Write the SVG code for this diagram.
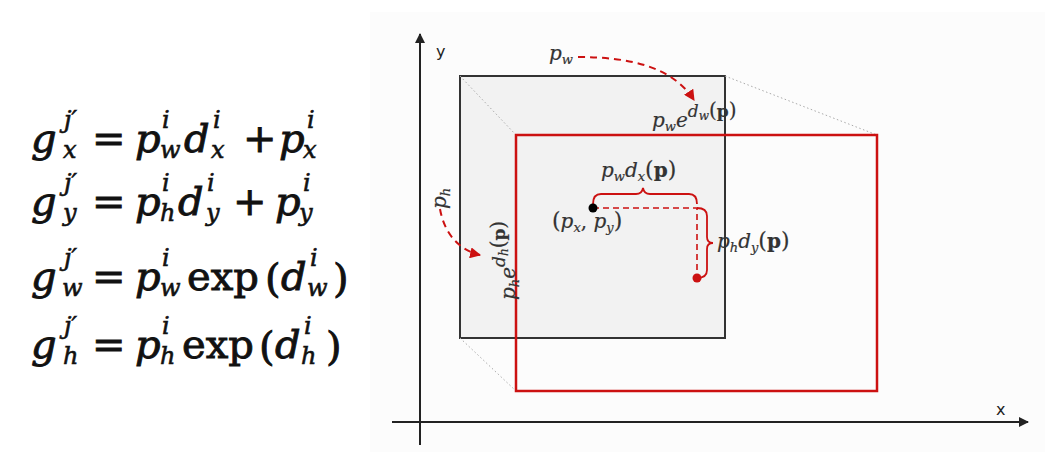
<svg xmlns="http://www.w3.org/2000/svg" width="1052" height="464" viewBox="0 0 1052 464">
<style>
.m{font-family:"DejaVu Serif","Liberation Serif",serif;font-style:italic;font-size:40px;fill:#111;stroke:#111;stroke-width:0.9}
.n{font-style:normal}
.s{font-size:24px;stroke-width:0.6}
.l{font-family:"DejaVu Serif","Liberation Serif",serif;font-style:italic;font-size:20px;fill:#333;stroke:#333;stroke-width:0.2}
.ls{font-size:13px}
.ln{font-style:normal}
.b{font-style:normal;font-weight:bold}
.ax{stroke:#222;stroke-width:2;fill:none}
.sans{font-family:"DejaVu Sans","Liberation Sans",sans-serif;font-size:16px;fill:#222}
.red{stroke:#cc1111;fill:none}
.dot{stroke:#aaa;stroke-width:1;stroke-dasharray:1.5 2.5;fill:none}
</style>
<defs>
<marker id="ah" viewBox="0 0 10 10" refX="9" refY="5" markerWidth="10" markerHeight="10" markerUnits="userSpaceOnUse" orient="auto"><path d="M0,0 L10,5 L0,10 z" fill="#222"/></marker>
<marker id="rh" viewBox="0 0 10 10" refX="9" refY="5" markerWidth="11" markerHeight="11" markerUnits="userSpaceOnUse" orient="auto"><path d="M0,0 L10,5 L0,10 z" fill="#cc1111"/></marker>
</defs>
<rect width="1052" height="464" fill="#fff"/>
<rect x="370" y="12" width="675" height="440" fill="#fcfcfc"/>

<g id="equations">
<g id="eq1">
<text class="m" x="31" y="152">g</text><text class="m s" x="64" y="128">j′</text><text class="m s" x="63" y="158">x</text>
<text class="m n" x="92" y="152">=</text>
<text class="m" x="135" y="152">p</text><text class="m s" x="162" y="128">i</text><text class="m s" x="160" y="158">w</text>
<text class="m" x="184" y="152">d</text><text class="m s" x="213" y="128">i</text><text class="m s" x="211" y="158">x</text>
<text class="m n" x="243" y="152">+</text>
<text class="m" x="279" y="152">p</text><text class="m s" x="307" y="128">i</text><text class="m s" x="303" y="158">x</text>
</g>
<g id="eq2">
<text class="m" x="31" y="215">g</text><text class="m s" x="64" y="191">j′</text><text class="m s" x="63" y="221">y</text>
<text class="m n" x="92" y="215">=</text>
<text class="m" x="135" y="215">p</text><text class="m s" x="162" y="191">i</text><text class="m s" x="160" y="221">h</text>
<text class="m" x="178" y="215">d</text><text class="m s" x="207" y="191">i</text><text class="m s" x="206" y="221">y</text>
<text class="m n" x="233" y="215">+</text>
<text class="m" x="275" y="215">p</text><text class="m s" x="303" y="191">i</text><text class="m s" x="299" y="221">y</text>
</g>
<g id="eq3">
<text class="m" x="31" y="290">g</text><text class="m s" x="64" y="266">j′</text><text class="m s" x="62" y="296">w</text>
<text class="m n" x="92" y="290">=</text>
<text class="m" x="135" y="290">p</text><text class="m s" x="162" y="266">i</text><text class="m s" x="160" y="296">w</text>
<text class="m n" x="187" y="290">exp</text>
<text class="m n" x="265" y="292" font-size="48">(</text>
<text class="m" x="281" y="290">d</text><text class="m s" x="310" y="266">i</text><text class="m s" x="307" y="296">w</text>
<text class="m n" x="333" y="292" font-size="48">)</text>
</g>
<g id="eq4">
<text class="m" x="31" y="358">g</text><text class="m s" x="64" y="334">j′</text><text class="m s" x="63" y="364">h</text>
<text class="m n" x="92" y="358">=</text>
<text class="m" x="135" y="358">p</text><text class="m s" x="162" y="334">i</text><text class="m s" x="160" y="364">h</text>
<text class="m n" x="182" y="358">exp</text>
<text class="m n" x="259" y="360" font-size="48">(</text>
<text class="m" x="275" y="358">d</text><text class="m s" x="304" y="334">i</text><text class="m s" x="301" y="364">h</text>
<text class="m n" x="326" y="360" font-size="48">)</text>
</g>
</g>

<g id="axes">
<line class="ax" x1="420" y1="445" x2="420" y2="34" marker-end="url(#ah)"/>
<line class="ax" x1="392" y1="422" x2="1028" y2="422" marker-end="url(#ah)"/>
<text class="sans" x="436" y="57">y</text>
<text class="sans" x="996" y="415">x</text>
</g>

<g id="prior-box">
<rect x="460" y="76" width="265" height="262" fill="#f2f2f2" stroke="#333" stroke-width="2"/>
</g>
<g id="guides">
<line class="dot" x1="460" y1="76" x2="516" y2="135"/>
<line class="dot" x1="725" y1="76" x2="877" y2="135"/>
<line class="dot" x1="460" y1="338" x2="516" y2="391"/>
</g>
<g id="pred-box">
<rect x="516" y="135" width="361" height="256" fill="none" stroke="#cc1111" stroke-width="2.5"/>
</g>

<g id="connectors">
<path class="red" stroke-width="2" stroke-dasharray="7 5" d="M578,57 C628,57 672,66 694,100" marker-end="url(#rh)"/>
<path class="red" stroke-width="2" stroke-dasharray="7 5" d="M440,209 C444,232 458,250 480,255" marker-end="url(#rh)"/>
<path class="red" stroke-width="1.6" stroke-dasharray="6 4" d="M593,208 H697 V278"/>
<path class="red" stroke-width="1.8" d="M593,204 Q593,194 601,194 L636,194 Q642,194 643,188 Q644,194 650,194 L689,194 Q697,194 697,204"/>
<path class="red" stroke-width="1.8" d="M697,208 Q707,208 707,216 L707,237 Q707,243 713,243 Q707,243 707,249 L707,270 Q707,278 697,278"/>
</g>

<g id="points">
<circle cx="593" cy="208" r="4.5" fill="#000"/>
<circle cx="697" cy="278" r="4.5" fill="#cc1111"/>
</g>

<g id="labels">
<text class="l" x="549" y="60">p<tspan class="ls" dy="4">w</tspan></text>
<text class="l" x="652" y="127">p<tspan class="ls" dy="4">w</tspan><tspan dy="-4">e</tspan><tspan font-size="17" dy="-10">d</tspan><tspan font-size="12" dy="3">w</tspan><tspan class="ln" font-size="20" dy="-3">(</tspan><tspan class="b" font-size="17">p</tspan><tspan class="ln" font-size="20">)</tspan></text>
<text class="l" x="601" y="177">p<tspan class="ls" dy="4">w</tspan><tspan dy="-4">d</tspan><tspan class="ls" dy="4">x</tspan><tspan class="ln" dy="-4" font-size="22">(</tspan><tspan class="b">p</tspan><tspan class="ln" font-size="22">)</tspan></text>
<text class="l" x="552" y="228"><tspan class="ln" font-size="22">(</tspan>p<tspan class="ls" dy="4">x</tspan><tspan class="ln" dy="-4">, </tspan>p<tspan class="ls" dy="4">y</tspan><tspan class="ln" dy="-4" font-size="22">)</tspan></text>
<text class="l" x="717" y="248">p<tspan class="ls" dy="4">h</tspan><tspan dy="-4">d</tspan><tspan class="ls" dy="4">y</tspan><tspan class="ln" dy="-4" font-size="22">(</tspan><tspan class="b">p</tspan><tspan class="ln" font-size="22">)</tspan></text>
<text class="l" transform="translate(446,209) rotate(-90)">p<tspan class="ls" dy="4">h</tspan></text>
<text class="l" transform="translate(515,300) rotate(-90)">p<tspan class="ls" dy="4">h</tspan><tspan dy="-4">e</tspan><tspan font-size="17" dy="-10">d</tspan><tspan font-size="12" dy="3">h</tspan><tspan class="ln" font-size="20" dy="-3">(</tspan><tspan class="b" font-size="17">p</tspan><tspan class="ln" font-size="20">)</tspan></text>
</g>
</svg>
